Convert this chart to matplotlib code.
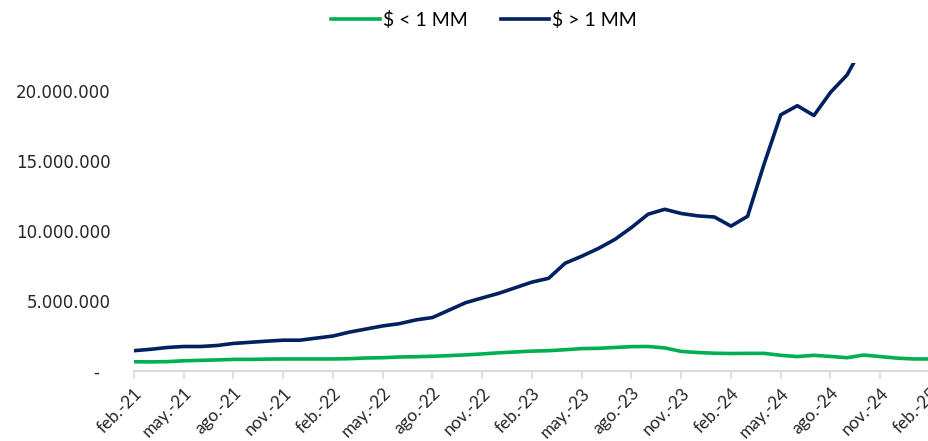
import numpy as np
import matplotlib
matplotlib.use('Agg')
import matplotlib.pyplot as plt
from matplotlib.ticker import FuncFormatter

# meses feb-21 .. feb-25 (49 puntos)
meses = ['feb', 'mar', 'abr', 'may', 'jun', 'jul', 'ago', 'sept', 'oct', 'nov', 'dic', 'ene']
etiquetas = []
for k in range(49):
    m = meses[k % 12]
    anio = 21 + (k + 1) // 12
    etiquetas.append(f'{m}.-{anio}')

# monto < 1 MM (millones)
menor_1mm = [0.66, 0.65, 0.67, 0.73, 0.76, 0.79, 0.83, 0.83, 0.85, 0.86,
             0.86, 0.86, 0.86, 0.88, 0.93, 0.95, 1.00, 1.02, 1.05, 1.10,
             1.15, 1.22, 1.30, 1.36, 1.42, 1.45, 1.52, 1.60, 1.62, 1.68,
             1.74, 1.75, 1.65, 1.40, 1.32, 1.27, 1.25, 1.26, 1.26, 1.12,
             1.03, 1.12, 1.04, 0.95, 1.14, 1.03, 0.92, 0.86, 0.86]

# monto > 1 MM (millones)
mayor_1mm = [1.45, 1.55, 1.68, 1.75, 1.75, 1.82, 1.97, 2.05, 2.13, 2.20,
             2.20, 2.35, 2.50, 2.78, 3.00, 3.22, 3.38, 3.65, 3.82, 4.35,
             4.88, 5.22, 5.55, 5.95, 6.35, 6.62, 7.70, 8.20, 8.75, 9.40,
             10.25, 11.20, 11.55, 11.25, 11.08, 11.00, 10.35, 11.05, 14.80, 18.30,
             18.95, 18.25, 19.90, 21.15, 23.30, 24.00, 25.20, 26.00, 27.00]

x = np.arange(len(etiquetas))
verde = '#00B050'
azul = '#002060'

fig = plt.figure(figsize=(9.29, 4.41), dpi=100)
ax = fig.add_axes([134 / 929, 70 / 441, 796 / 929, 308 / 441])

ax.plot(x, np.array(menor_1mm) * 1e6, color=verde, lw=2.6, label='$ < 1 MM')
ax.plot(x, np.array(mayor_1mm) * 1e6, color=azul, lw=2.6, label='$ > 1 MM')

ax.set_xlim(0, 48)
ax.set_ylim(0, 22e6)
ax.set_yticks([0, 5e6, 10e6, 15e6, 20e6])


def fmt(v, pos):
    if v == 0:
        return '-  '
    return f'{int(v):,}'.replace(',', '.')


ax.yaxis.set_major_formatter(FuncFormatter(fmt))
ax.tick_params(axis='y', length=0, pad=17, labelsize=12, labelcolor='#262626')

ax.set_xticks(x[::3])
ax.set_xticklabels(etiquetas[::3], rotation=45, ha='right', rotation_mode='anchor',
                   fontsize=12.5, family='Lato', color='#262626')
ax.tick_params(axis='x', length=6, width=1.2, color='#d9d9d9', pad=4)

for s in ['top', 'right', 'left']:
    ax.spines[s].set_visible(False)
ax.spines['bottom'].set_color('#d9d9d9')
ax.spines['bottom'].set_linewidth(1.5)

fig.legend(loc='center', bbox_to_anchor=(484 / 929, 1 - 20 / 441), ncol=2, frameon=False,
           prop={'family': 'Lato', 'size': 14}, handlelength=2.5, columnspacing=1.7,
           handletextpad=0.15)

fig.savefig('out.png', dpi=100)
